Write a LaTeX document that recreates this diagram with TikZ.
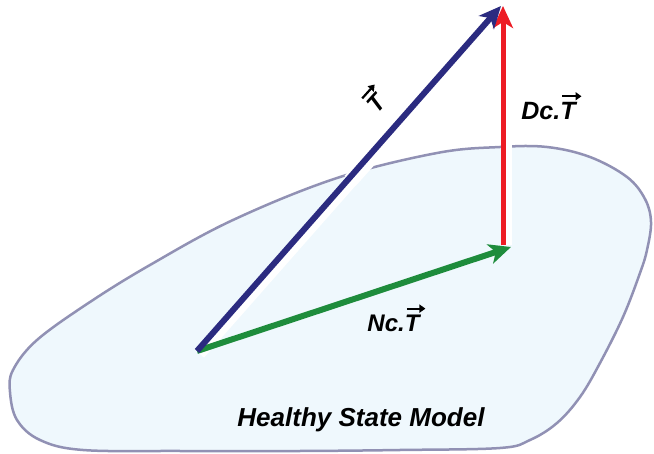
\documentclass[tikz,border=0pt]{standalone}
\usepackage{fontspec}
\setmainfont{Liberation Sans}
\usetikzlibrary{arrows.meta}
\definecolor{blobfill}{RGB}{239,248,253}
\definecolor{blobline}{RGB}{145,145,180}
\definecolor{navy}{RGB}{43,43,128}
\definecolor{vred}{RGB}{237,28,36}
\definecolor{vgreen}{RGB}{30,140,60}
\newcommand\vT{\tikz[baseline=(vt.base)]{\node[inner sep=0pt,outer sep=0pt,rotate=0](vt){T};\draw[line width=2.2pt,-{Triangle[length=6pt,width=8pt]}] ([xshift=2pt,yshift=6pt]vt.north west) -- ([xshift=6pt,yshift=6pt]vt.north east);}}
\tikzset{
 vecline/.style={line width=6pt, -{Stealth[length=22pt,width=20pt,inset=6pt]}},
 halo/.style={white, line width=8pt},
 lbl/.style={font=\bfseries\itshape\fontsize{24}{28}\selectfont, inner sep=0pt},
}
\begin{document}
\begin{tikzpicture}[x=1pt,y=1pt]
\useasboundingbox (0,0) rectangle (654,453);
\fill[white] (0,0) rectangle (654,453);
\draw[blobline, fill=blobfill, line width=2.5pt] plot[smooth cycle, tension=0.6] coordinates {
(500,306) (547,306) (590,296) (627,276) (645,254) (651,231) (647,203) (640,180) (623,136) (600,90) (580,56) (557,30) (530,13) (500,5) (400,3) (300,2) (180,2) (83,3) (40,13) (17,33) (10,61) (13,83) (37,113) (90,151) (150,188) (233,233) (337,275) (437,300)};
\coordinate (O) at (197,102);
\coordinate (N) at (511,206);
\coordinate (R0) at (503,208);
\coordinate (D) at (503,447);
\coordinate (T) at (501,447);
\coordinate (G1) at (350,272);
\coordinate (G2) at (368,292);
\draw[white, line width=15pt] (G1) -- (G2);
\draw[halo] ([shift={(4,-4)}]O) -- ([shift={(4,-4)}]T);
\draw[white, line width=6pt] ([xshift=6pt]R0) -- ([xshift=6pt]D);
\draw[vecline, vred, line width=5pt] (R0) -- (D);
\draw[vecline, vgreen] (O) -- (N);
\draw[vecline, navy] (O) -- (T);
\node[lbl, rotate=48] (lt) at (375,355) {\vT};
\node[lbl, font=\bfseries\itshape\fontsize{25}{30}\selectfont] (ld) at (552,347) {Dc.\vT};
\node[lbl] (ln) at (397,135) {Nc.\vT};
\node[lbl, font=\bfseries\itshape\fontsize{26}{30}\selectfont] (lh) at (361,33) {Healthy State Model};
\end{tikzpicture}
\end{document}
